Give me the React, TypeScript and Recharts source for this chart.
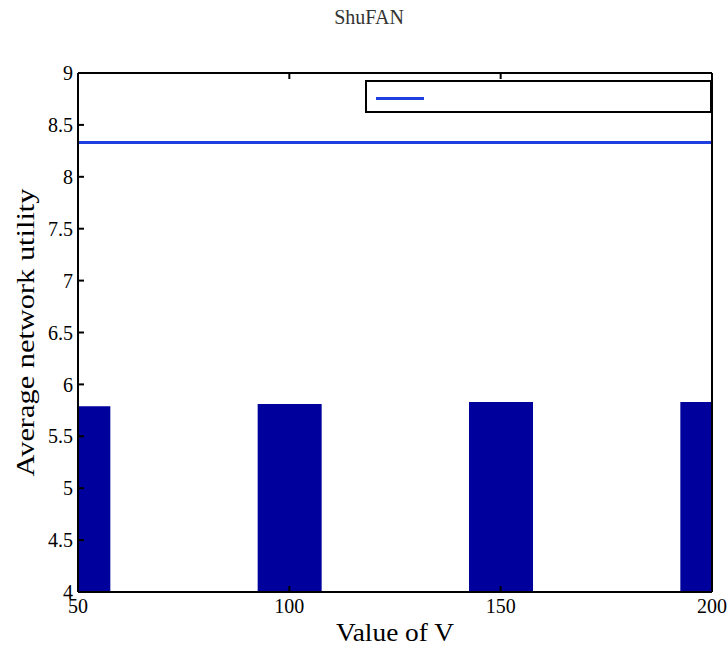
import React from 'react'
import {
    ComposedChart,
    Bar,
    Line,
    XAxis,
    YAxis,
    Legend,
    Label,
} from 'recharts'

// values
const vValues = [50, 100, 150, 200]
const barValues = [5.79, 5.81, 5.83, 5.83]
const lineValues = [8.33, 8.33, 8.33, 8.33]
const xTicks = [50, 100, 150, 200]
const yTicks = [4, 4.5, 5, 5.5, 6, 6.5, 7, 7.5, 8, 8.5, 9]

const data = vValues.map((v, i) => ({
    v,
    bars: barValues[i],
    utility: lineValues[i],
}))

const serif = '"Liberation Serif", "DejaVu Serif", serif'
const tickStyle = { fontSize: 20, fontFamily: serif, fill: '#000' }
const lineStyle = { stroke: '#000', strokeWidth: 2 }

const YTitle = (props: any) => {
    const vb = props.viewBox || {}
    const x = vb.x + 7
    const y = vb.y + vb.height / 2
    return (
        <text
            x={x}
            y={y}
            transform={`rotate(-90, ${x}, ${y})`}
            textAnchor='middle'
            dominantBaseline='central'
            fontFamily={serif}
            fontSize={26}
            textLength={288}
            lengthAdjust='spacingAndGlyphs'
            fill='#000'
        >
            Average network utility
        </text>
    )
}

const XTitle = (props: any) => {
    const vb = props.viewBox || {}
    return (
        <text
            x={vb.x + vb.width / 2}
            y={vb.y + 49}
            textAnchor='middle'
            fontFamily={serif}
            fontSize={26}
            textLength={118}
            lengthAdjust='spacingAndGlyphs'
            fill='#000'
        >
            Value of V
        </text>
    )
}

const LegendBox = (props: any) => {
    const items = (props.payload || []).filter((p: any) => p.type === 'line')
    return (
        <div
            style={{
                boxSizing: 'border-box',
                width: '100%',
                height: '100%',
                border: '2px solid #000',
                background: '#fff',
                position: 'relative',
            }}
        >
            {items.map((p: any) => (
                <div
                    key={p.value}
                    style={{
                        position: 'absolute',
                        left: 9,
                        top: 15,
                        width: 48,
                        height: 3,
                        background: p.color,
                    }}
                />
            ))}
        </div>
    )
}

export default function App() {
    return (
        <div style={{ position: 'absolute', left: 0, top: 0, width: 727, height: 646, background: '#fff' }}>
            <div
                style={{
                    position: 'absolute',
                    left: 269,
                    top: 7,
                    width: 200,
                    textAlign: 'center',
                    fontFamily: serif,
                    fontSize: 20,
                    lineHeight: '20px',
                    color: '#333',
                }}
            >
                ShuFAN
            </div>
            <ComposedChart
                width={727}
                height={646}
                data={data}
                margin={{ top: 72, right: 14, bottom: 24, left: 18 }}
            >
                <XAxis
                    dataKey='v'
                    type='number'
                    domain={[50, 200]}
                    ticks={xTicks}
                    allowDataOverflow
                    height={30}
                    tickSize={-6}
                    tickMargin={13}
                    tick={tickStyle}
                    axisLine={lineStyle}
                    tickLine={lineStyle}
                >
                    <Label content={XTitle} />
                </XAxis>
                <XAxis
                    xAxisId='top'
                    orientation='top'
                    dataKey='v'
                    type='number'
                    domain={[50, 200]}
                    ticks={xTicks}
                    height={1}
                    tickSize={-6}
                    tickFormatter={() => ''}
                    axisLine={lineStyle}
                    tickLine={lineStyle}
                />
                <YAxis
                    type='number'
                    domain={[4, 9]}
                    ticks={yTicks}
                    width={60}
                    tickSize={-6}
                    tickMargin={11}
                    tick={tickStyle}
                    axisLine={lineStyle}
                    tickLine={lineStyle}
                >
                    <Label content={YTitle} />
                </YAxis>
                <YAxis
                    yAxisId='right'
                    orientation='right'
                    type='number'
                    domain={[4, 9]}
                    ticks={yTicks}
                    width={1}
                    tickSize={-6}
                    tickFormatter={() => ''}
                    axisLine={lineStyle}
                    tickLine={lineStyle}
                />
                <Bar dataKey='bars' fill='#00009c' barSize={64} isAnimationActive={false} />
                <Line
                    dataKey='utility'
                    type='linear'
                    stroke='#1f3fe0'
                    strokeWidth={3}
                    dot={false}
                    isAnimationActive={false}
                />
                <Legend
                    align='center'
                    verticalAlign='middle'
                    content={LegendBox}
                    wrapperStyle={{ top: 80, left: 365, width: 347, height: 33 }}
                />
            </ComposedChart>
        </div>
    )
}
